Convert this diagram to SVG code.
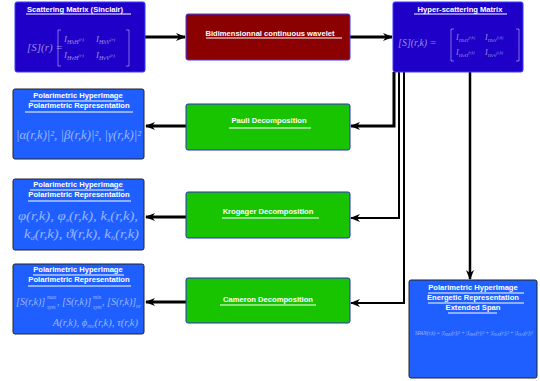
<svg xmlns="http://www.w3.org/2000/svg" width="540" height="381" viewBox="0 0 540 381">
<defs>
<marker id="ah" viewBox="0 0 10 8" refX="9" refY="4" markerWidth="10" markerHeight="8" markerUnits="userSpaceOnUse" orient="auto">
<path d="M0,0 L10,4 L0,8 L3,4 z" fill="#000"/>
</marker>
<style>
.ttl{font-family:"Liberation Sans",Arial,sans-serif;font-weight:bold;font-size:7.6px;fill:#fff;text-anchor:middle}
.ul{stroke:#fff;stroke-width:1}
.m{font-family:"Liberation Serif","DejaVu Serif",serif;font-style:italic;fill:#fff;fill-opacity:0.55}
.br{fill:none;stroke:#fff;stroke-opacity:0.55;stroke-width:0.8}
.c{fill:none;stroke:#000}
.dk{fill:#1e00c8;stroke:#3a3aff;stroke-width:1}
.rb{fill:#1f5fff;stroke:#222;stroke-width:1}
.gr{fill:#18c400;stroke:#2a2ad0;stroke-width:1}
</style>
</defs>

<g id="connectors">
<path class="c" stroke-width="3" d="M145,37 H185" marker-end="url(#ah)"/>
<path class="c" stroke-width="3" d="M350,37 H392" marker-end="url(#ah)"/>
<path class="c" stroke-width="3" d="M394,72 V126 H351" marker-end="url(#ah)"/>
<path class="c" stroke-width="2" d="M399,72 V218 H351" marker-end="url(#ah)"/>
<path class="c" stroke-width="2" d="M404,72 V303 H351" marker-end="url(#ah)"/>
<path class="c" stroke-width="2.5" d="M470,72 V279" marker-end="url(#ah)"/>
<path class="c" stroke-width="3" d="M186,126 H146" marker-end="url(#ah)"/>
<path class="c" stroke-width="3" d="M186,217 H146" marker-end="url(#ah)"/>
<path class="c" stroke-width="3" d="M186,302 H146" marker-end="url(#ah)"/>
</g>

<g id="scattering">
<rect class="dk" x="15" y="2" width="130" height="70" rx="2"/>
<text class="ttl" x="75" y="12">Scattering Matrix (Sinclair)</text>
<line class="ul" x1="26" y1="14" x2="131" y2="14"/>
<text class="m" x="27" y="51" font-size="11">[S](r) =</text>
<path class="br" d="M61,30 H58 V66 H61 M126,30 H129 V66 H126"/>
<text class="m" x="64" y="42" font-size="9">I<tspan font-size="6" dy="2">HhH</tspan><tspan font-size="5" dy="-3">(r)</tspan></text>
<text class="m" x="96" y="42" font-size="9">I<tspan font-size="6" dy="2">HhV</tspan><tspan font-size="5" dy="-3">(r)</tspan></text>
<text class="m" x="64" y="58" font-size="9">I<tspan font-size="6" dy="2">HvH</tspan><tspan font-size="5" dy="-3">(r)</tspan></text>
<text class="m" x="96" y="58" font-size="9">I<tspan font-size="6" dy="2">HvV</tspan><tspan font-size="5" dy="-3">(r)</tspan></text>
</g>

<g id="wavelet">
<rect x="186" y="14" width="164" height="46" rx="2" fill="#8b0000" stroke="#3a3aff" stroke-width="1"/>
<text class="ttl" x="270" y="36">Bidimensionnal continuous wavelet</text>
<line class="ul" x1="206" y1="38" x2="342" y2="38"/>
</g>

<g id="hyper">
<rect class="dk" x="393" y="2" width="130" height="70" rx="2"/>
<text class="ttl" x="460" y="12">Hyper-scattering Matrix</text>
<line class="ul" x1="414" y1="14" x2="507" y2="14"/>
<text class="m" x="398" y="46" font-size="10">[S](r,k) =</text>
<path class="br" d="M454,29 H451 V61 H454 M516,29 H519 V61 H516"/>
<text class="m" x="456" y="40" font-size="8">I<tspan font-size="5" dy="2">HhH</tspan><tspan font-size="4" dy="-3">(r,k)</tspan></text>
<text class="m" x="485" y="40" font-size="8">I<tspan font-size="5" dy="2">HhV</tspan><tspan font-size="4" dy="-3">(r,k)</tspan></text>
<text class="m" x="456" y="55" font-size="8">I<tspan font-size="5" dy="2">HvH</tspan><tspan font-size="4" dy="-3">(r,k)</tspan></text>
<text class="m" x="485" y="55" font-size="8">I<tspan font-size="5" dy="2">HvV</tspan><tspan font-size="4" dy="-3">(r,k)</tspan></text>
</g>

<g id="pauli">
<rect class="gr" x="186" y="104" width="164" height="46" rx="2"/>
<text class="ttl" x="269" y="123">Pauli Decomposition</text>
<line class="ul" x1="229" y1="128" x2="311" y2="128"/>
</g>

<g id="krogager">
<rect class="gr" x="186" y="192" width="164" height="46" rx="2"/>
<text class="ttl" x="268" y="214">Krogager Decomposition</text>
<line class="ul" x1="222" y1="218" x2="319" y2="218"/>
</g>

<g id="cameron">
<rect class="gr" x="186" y="278" width="164" height="45" rx="2"/>
<text class="ttl" x="268" y="302">Cameron Decomposition</text>
<line class="ul" x1="220" y1="305" x2="316" y2="305"/>
</g>

<g id="pauli-out">
<rect class="rb" x="13" y="89" width="131" height="70" rx="2"/>
<text class="ttl" x="78" y="98">Polarimetric HyperImage</text>
<line class="ul" x1="30" y1="101" x2="124" y2="101"/>
<text class="ttl" x="79" y="108">Polarimetric Representation</text>
<line class="ul" x1="25" y1="112" x2="133" y2="112"/>
<text class="m" x="16" y="139" font-size="13" textLength="125" lengthAdjust="spacingAndGlyphs">|α(r,k)|², |β(r,k)|², |γ(r,k)|²</text>
</g>

<g id="krogager-out">
<rect class="rb" x="13" y="179" width="131" height="71" rx="2"/>
<text class="ttl" x="78" y="187">Polarimetric HyperImage</text>
<line class="ul" x1="30" y1="190" x2="124" y2="190"/>
<text class="ttl" x="79" y="197">Polarimetric Representation</text>
<line class="ul" x1="28" y1="201" x2="131" y2="201"/>
<text class="m" x="18" y="220" font-size="12" textLength="120" lengthAdjust="spacingAndGlyphs">φ(r,k), φ<tspan font-size="7" dy="2">s</tspan><tspan dy="-2">(r,k), k</tspan><tspan font-size="7" dy="2">s</tspan><tspan dy="-2">(r,k),</tspan></text>
<text class="m" x="24" y="238" font-size="12" textLength="115" lengthAdjust="spacingAndGlyphs">k<tspan font-size="7" dy="2">d</tspan><tspan dy="-2">(r,k), ϑ(r,k), k</tspan><tspan font-size="7" dy="2">h</tspan><tspan dy="-2">(r,k)</tspan></text>
</g>

<g id="cameron-out">
<rect class="rb" x="13" y="264" width="131" height="70" rx="2"/>
<text class="ttl" x="78" y="272">Polarimetric HyperImage</text>
<line class="ul" x1="33" y1="275" x2="124" y2="275"/>
<text class="ttl" x="79" y="282">Polarimetric Representation</text>
<line class="ul" x1="28" y1="286" x2="131" y2="286"/>
<text class="m" x="16" y="305" font-size="10">[S(r,k)]</text>
<text class="m" x="47" y="299" font-size="5.5">max</text>
<text class="m" x="47" y="309" font-size="5.5">sym</text>
<text class="m" x="57" y="305" font-size="10">, [S(r,k)]</text>
<text class="m" x="93" y="299" font-size="5.5">min</text>
<text class="m" x="93" y="309" font-size="5.5">sym</text>
<text class="m" x="102" y="305" font-size="10">, [S(r,k)]</text>
<text class="m" x="136" y="308" font-size="5.5">nr</text>
<text class="m" x="138" y="326" font-size="10.5" text-anchor="end">A(r,k), ϕ<tspan font-size="6" dy="2">rec</tspan><tspan dy="-2">(r,k), τ(r,k)</tspan></text>
</g>

<g id="energetic">
<rect class="rb" x="409" y="280" width="128" height="98" rx="2"/>
<text class="ttl" x="473" y="290">Polarimetric HyperImage</text>
<line class="ul" x1="428" y1="293" x2="524" y2="293"/>
<text class="ttl" x="473" y="300">Energetic Representation</text>
<line class="ul" x1="428" y1="303" x2="524" y2="303"/>
<text class="ttl" x="473" y="310">Extended Span</text>
<line class="ul" x1="448" y1="313" x2="497" y2="313"/>
<text class="m" x="415" y="335" font-size="5.2">SPAN(r,k) = |I<tspan font-size="3.6" dy="1">HhH</tspan><tspan dy="-1">(r)|² + |I</tspan><tspan font-size="3.6" dy="1">HhV</tspan><tspan dy="-1">(r)|² + |I</tspan><tspan font-size="3.6" dy="1">HvH</tspan><tspan dy="-1">(r)|² + |I</tspan><tspan font-size="3.6" dy="1">HvV</tspan><tspan dy="-1">(r)|²</tspan></text>
</g>
</svg>
